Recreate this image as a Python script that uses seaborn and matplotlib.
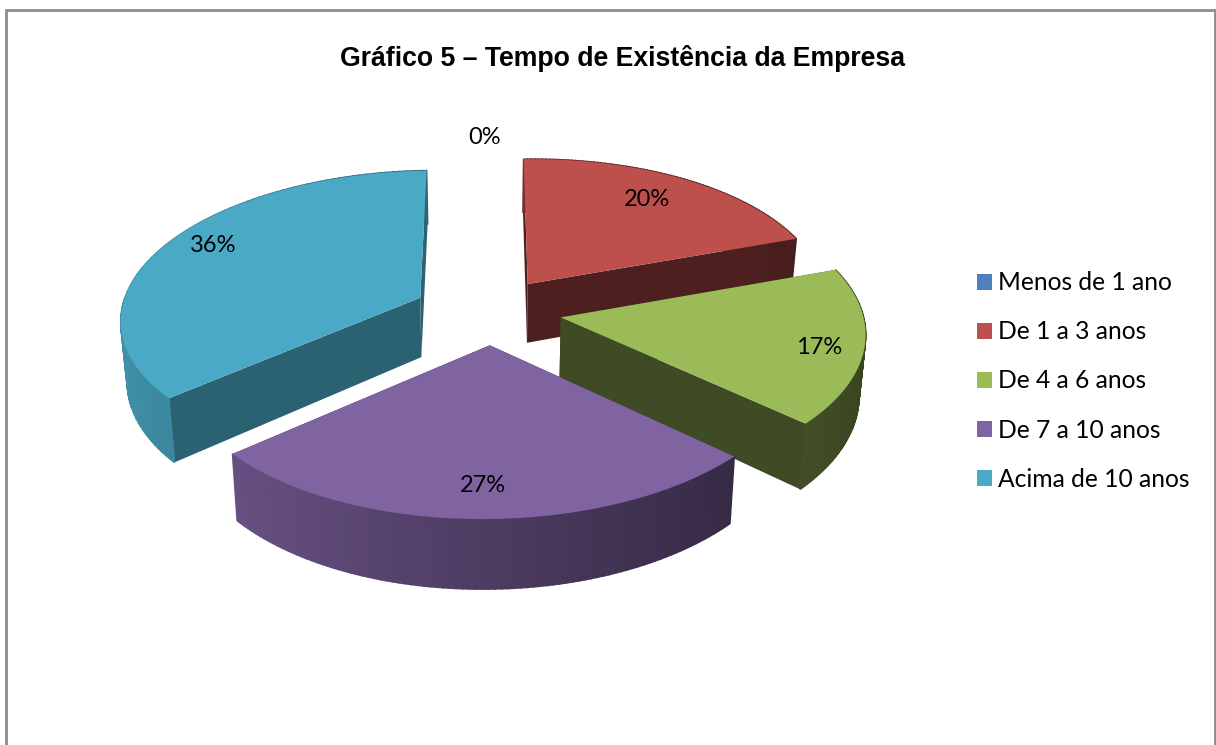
import matplotlib
matplotlib.use("Agg")
import matplotlib.pyplot as plt
from matplotlib.patches import Patch, Polygon
import numpy as np
import seaborn as sns

# dados do grafico
categorias = ["Menos de 1 ano", "De 1 a 3 anos", "De 4 a 6 anos", "De 7 a 10 anos", "Acima de 10 anos"]
percentuais = [0, 20, 17, 27, 36]
cores = ["#4F81BD", "#BD4F4C", "#9BBB59", "#8064A2", "#4AA9C4"]
titulo = "Gráfico 5 – Tempo de Existência da Empresa"

# layout (pixels) e estilo
ROTULOS_XY = [(485, 137), (647, 199), (819, 347), (483, 485), (213, 246)]
CX, CY = 490, 311
A, B = 300, 145      # raios da elipse
K = 0.116            # perspectiva
PROF = 60            # espessura
CONV = 0.018         # base converge para o centro
INCL = -4            # leve giro da elipse
EXPL = 0.23          # explosao das fatias
AJUSTE_X = [0, -2, 3, 2, -8]
SOMBRA_CORTE = [0.4, 0.41, 0.4, 0.4, 0.58]
ORDEM = [4, 1, 2, 3]  # de tras para frente

sns.set_theme(style="white")
plt.rcParams["font.family"] = ["Lato", "DejaVu Sans"]
paleta = sns.color_palette(cores)


def proj(u, v, z=0.0, dx=0):
    s = 1 / (1 + K * v)
    x = CX + dx + A * u * s * (1 - CONV * z)
    y = CY - B * v * s + INCL * u + PROF * z * s
    return x, y


def escurece(cor, f):
    return tuple(c * f for c in cor)


fig = plt.figure(figsize=(12.16, 7.45), dpi=100)
ax = fig.add_axes([0, 0, 1, 1])
ax.set_xlim(0, 1216)
ax.set_ylim(745, 0)
ax.axis("off")

# moldura (sem linha de baixo, cortada no original)
ax.plot([6, 6, 1215, 1215], [745, 10, 10, 745], color="#8C8C8C", lw=2, solid_joinstyle="miter")

limites = np.cumsum([0] + percentuais) * 3.6

for i in ORDEM:
    t0, t1 = np.radians(limites[i]), np.radians(limites[i + 1])
    meio = (t0 + t1) / 2
    du, dv = EXPL * np.sin(meio), EXPL * np.cos(meio)
    th = np.linspace(t0, t1, 90)
    us, vs = du + np.sin(th), dv + np.cos(th)
    cor = paleta[i]
    dx = AJUSTE_X[i]

    # paredes dos cortes
    for t in (t0, t1):
        ue, ve = du + np.sin(t), dv + np.cos(t)
        parede = [proj(du, dv, 0, dx), proj(ue, ve, 0, dx), proj(ue, ve, 1, dx), proj(du, dv, 1, dx)]
        ax.add_patch(Polygon(parede, closed=True, fc=escurece(cor, SOMBRA_CORTE[i]), ec="none", zorder=i + 1))

    # parede externa, com degrade conforme o angulo
    for j in range(len(th) - 1):
        f = np.interp(np.sin(th[j]), [-1, 0, 1], [0.86, 0.6, 0.36])
        faixa = [proj(us[j], vs[j], 0, dx), proj(us[j + 1], vs[j + 1], 0, dx),
                 proj(us[j + 1], vs[j + 1], 1, dx), proj(us[j], vs[j], 1, dx)]
        ax.add_patch(Polygon(faixa, closed=True, fc=escurece(cor, f), ec=escurece(cor, f), lw=1.2, zorder=i + 1))

    # tampo
    topo = [proj(du, dv, 0, dx)] + [proj(a, b, 0, dx) for a, b in zip(us, vs)]
    ax.add_patch(Polygon(topo, closed=True, fc=cor, ec="none", zorder=i + 1.5))

for (x, y), p in zip(ROTULOS_XY, percentuais):
    ax.text(x, y, f"{p}%", ha="center", va="center", fontsize=17, color="black", zorder=20)

ax.text(622, 58, titulo, ha="center", va="center", fontsize=19.2, fontweight="bold",
        family=["Liberation Sans", "DejaVu Sans"], color="black")

alcas = [Patch(fc=c, ec="none", label=n) for c, n in zip(paleta, categorias)]
ax.legend(handles=alcas, loc="center left", bbox_to_anchor=(977, 381), bbox_transform=ax.transData,
          frameon=False, fontsize=17.7, labelcolor="black", handlelength=0.61, handleheight=0.61,
          handletextpad=0.24, labelspacing=1.06, borderpad=0, borderaxespad=0)

fig.savefig("out.png", dpi=100)
plt.close(fig)
